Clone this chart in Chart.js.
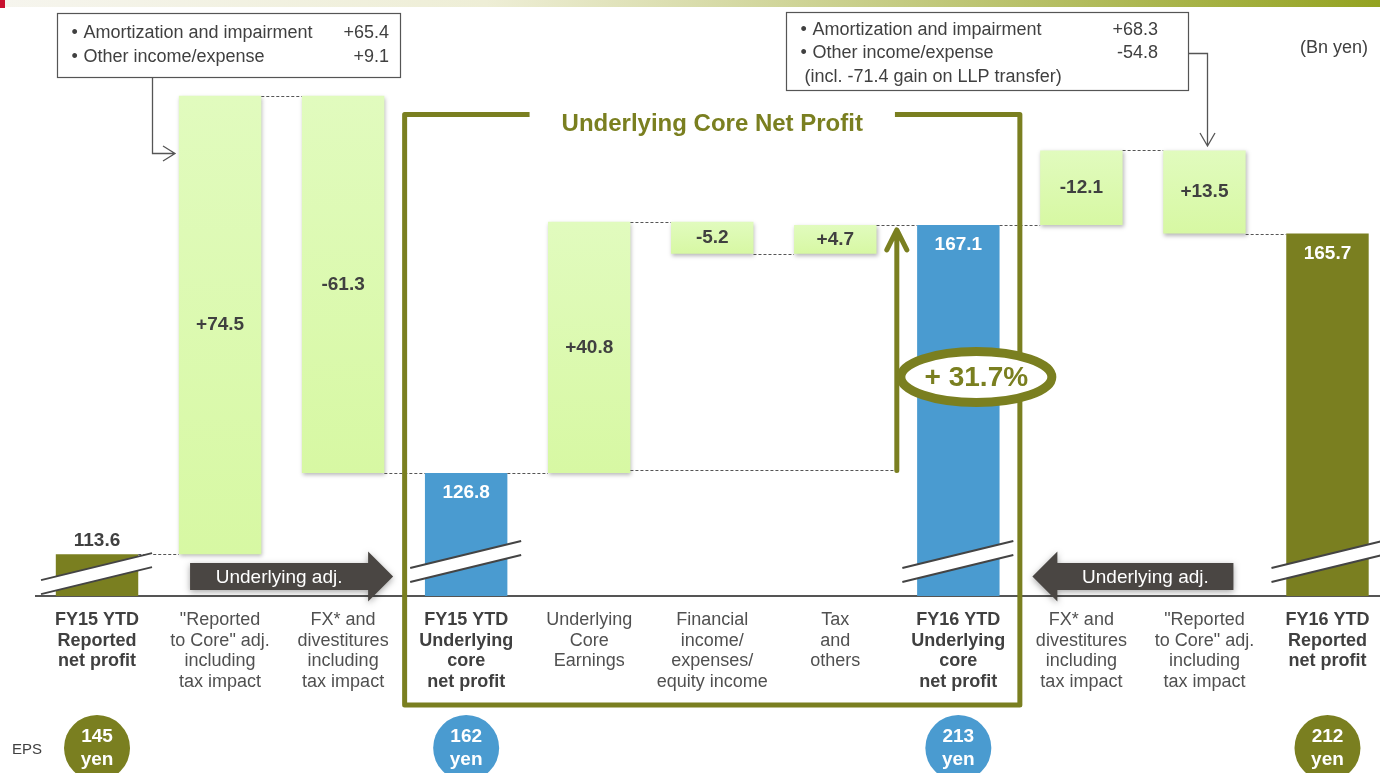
<!DOCTYPE html>
<html>
<head>
<meta charset="utf-8">
<title>Underlying Core Net Profit</title>
<script src="https://cdn.jsdelivr.net/npm/chart.js@4.4.1/dist/chart.umd.min.js"></script>
<style>
  html, body { margin: 0; padding: 0; background: #fff; overflow: hidden; }
  #wrap { position: relative; width: 1380px; height: 773px; overflow: hidden; }
  canvas { display: block; }
</style>
</head>
<body>
<div id="wrap"><canvas id="bridgeChart" width="1389" height="773"></canvas></div>
<script>
// Data (Bn yen)
const categories = [
  ["FY15 YTD", "Reported", "net profit"],
  ["\"Reported", "to Core\" adj.", "including", "tax impact"],
  ["FX* and", "divestitures", "including", "tax impact"],
  ["FY15 YTD", "Underlying", "core", "net profit"],
  ["Underlying", "Core", "Earnings"],
  ["Financial", "income/", "expenses/", "equity income"],
  ["Tax", "and", "others"],
  ["FY16 YTD", "Underlying", "core", "net profit"],
  ["FX* and", "divestitures", "including", "tax impact"],
  ["\"Reported", "to Core\" adj.", "including", "tax impact"],
  ["FY16 YTD", "Reported", "net profit"]
];
const totalValues = [113.6, null, null, 126.8, null, null, null, 167.1, null, null, 165.7];
const deltaValues = [null, 74.5, -61.3, null, 40.8, -5.2, 4.7, null, -12.1, 13.5, null];
const epsValues = [145, null, null, 162, null, null, null, 213, null, null, 212];

const leftNotes = [["Amortization and impairment", "+65.4"], ["Other income/expense", "+9.1"]];
const rightNotes = [["Amortization and impairment", "+68.3"], ["Other income/expense", "-54.8"]];
const rightNoteExtra = "(incl. -71.4 gain on LLP transfer)";
const boxTitle = "Underlying Core Net Profit";
const growthLabel = "+ 31.7%";
const adjLabel = "Underlying adj.";

// Styles
const FONT = '"Liberation Sans", Arial, sans-serif';
const OLIVE = "#7a7f20";
const BLUE = "#4a9bd0";
const TEXT = "#404040";
const Y_MIN = 106.8, Y_MAX = 197.15;

// Waterfall ranges: left side walks forward from FY15 reported,
// right side walks back from FY16 reported (the adj. arrow points left)
function buildRanges() {
  const ranges = new Array(categories.length).fill(null);
  let run = totalValues[0];
  for (let i = 1; i <= 7; i++) {
    if (totalValues[i] != null) { run = totalValues[i]; continue; }
    ranges[i] = [run, run + deltaValues[i]];
    run += deltaValues[i];
  }
  run = totalValues[10];
  for (let i = 9; i >= 8; i--) {
    ranges[i] = [run, run + deltaValues[i]];
    run += deltaValues[i];
  }
  return ranges;
}
const deltaRanges = buildRanges();
const totalRanges = totalValues.map(v => (v == null ? null : [Y_MIN, v]));

const isUnderlying = i => categories[i].join(" ").includes("Underlying") && totalValues[i] != null;

function fmtDelta(v) {
  return (v > 0 ? "+" : "") + v.toFixed(1);
}

// soft shadow under the green bars
const shadowPlugin = {
  id: "barShadow",
  beforeDatasetDraw(chart, args) {
    if (args.index !== 0) return;
    const ctx = chart.ctx;
    ctx.save();
    ctx.shadowColor = "rgba(0,0,0,0.28)";
    ctx.shadowBlur = 4;
    ctx.shadowOffsetX = 1;
    ctx.shadowOffsetY = 2;
  },
  afterDatasetDraw(chart, args) {
    if (args.index === 0) chart.ctx.restore();
  }
};

function blockArrow(ctx, tail, tip, cy, text) {
  const dir = tip > tail ? 1 : -1;
  const headBase = tip - dir * 25;
  ctx.save();
  ctx.shadowColor = "rgba(0,0,0,0.35)";
  ctx.shadowBlur = 6;
  ctx.shadowOffsetY = 2;
  ctx.fillStyle = "#4a4643";
  ctx.beginPath();
  ctx.moveTo(tail, cy - 13.5);
  ctx.lineTo(headBase, cy - 13.5);
  ctx.lineTo(headBase, cy - 25);
  ctx.lineTo(tip, cy);
  ctx.lineTo(headBase, cy + 25);
  ctx.lineTo(headBase, cy + 13.5);
  ctx.lineTo(tail, cy + 13.5);
  ctx.closePath();
  ctx.fill();
  ctx.restore();
  ctx.fillStyle = "#ffffff";
  ctx.font = "19px " + FONT;
  ctx.textAlign = "center";
  ctx.textBaseline = "middle";
  ctx.fillText(text, (tail + headBase) / 2, cy + 1);
}

function noteBox(ctx, x, y, w, h, notes, extra, valRight, lineY) {
  ctx.strokeStyle = "#555";
  ctx.lineWidth = 1.2;
  ctx.strokeRect(x, y, w, h);
  ctx.fillStyle = TEXT;
  ctx.font = "18px " + FONT;
  ctx.textBaseline = "middle";
  notes.forEach((n, k) => {
    ctx.textAlign = "left";
    ctx.fillText("\u2022", x + 14, lineY[k]);
    ctx.fillText(n[0], x + 26, lineY[k]);
    ctx.textAlign = "right";
    ctx.fillText(n[1], valRight, lineY[k]);
  });
  if (extra) {
    ctx.textAlign = "left";
    ctx.fillText(extra, x + 18, lineY[notes.length]);
  }
}

const annotationPlugin = {
  id: "annotations",
  afterDraw(chart) {
    const ctx = chart.ctx;
    const xs = chart.scales.x, ys = chart.scales.y;
    const cx = i => xs.getPixelForValue(i);
    const half = (cx(1) - cx(0)) / 2;
    const metaD = chart.getDatasetMeta(0), metaT = chart.getDatasetMeta(1);
    const barEl = i => (deltaRanges[i] ? metaD.data[i] : metaT.data[i]);
    const ranges = deltaRanges.map((r, i) => r || totalRanges[i]);

    // top strip
    const g = ctx.createLinearGradient(0, 0, chart.width, 0);
    g.addColorStop(0, "#f6f5ee");
    g.addColorStop(0.35, "#eeeed6");
    g.addColorStop(1, "#93a21f");
    ctx.fillStyle = g;
    ctx.fillRect(0, 0, chart.width, 7);
    ctx.fillStyle = "#c8102e";
    ctx.fillRect(0, 0, 5, 8);

    // dashed connectors between neighbouring bars
    ctx.save();
    ctx.strokeStyle = "#555";
    ctx.lineWidth = 1;
    ctx.setLineDash([3, 2]);
    for (let i = 0; i < ranges.length - 1; i++) {
      const a = ranges[i].filter(v => v !== Y_MIN);
      const b = ranges[i + 1].filter(v => v !== Y_MIN);
      const lvl = a.find(v => b.some(w => Math.abs(w - v) < 0.05));
      if (lvl == null) continue;
      const e1 = barEl(i), e2 = barEl(i + 1);
      const y = Math.round(ys.getPixelForValue(lvl)) + 0.5;
      ctx.beginPath();
      ctx.moveTo(e1.x + e1.width / 2, y);
      ctx.lineTo(e2.x - e2.width / 2, y);
      ctx.stroke();
    }
    // long dashed line from FY15 core level to growth arrow
    const arrowX = cx(6) + half;
    const yBase = Math.round(ys.getPixelForValue(totalValues[3])) - 2.5;
    const e4 = barEl(4);
    ctx.beginPath();
    ctx.moveTo(e4.x + e4.width / 2, yBase);
    ctx.lineTo(arrowX, yBase);
    ctx.stroke();
    ctx.restore();

    // break marks on total bars
    totalValues.forEach((v, i) => {
      if (v == null) return;
      const el = metaT.data[i];
      const bottom = ys.getPixelForValue(Y_MIN), top = ys.getPixelForValue(v);
      const off = Math.min(28, (bottom - top) * 0.38);
      const x0 = el.x - 56, x1 = el.x + 55;
      const y0 = bottom - off, y1 = y0 - 27;
      ctx.fillStyle = "#fff";
      ctx.beginPath();
      ctx.moveTo(x0, y0); ctx.lineTo(x1, y1); ctx.lineTo(x1, y1 + 14); ctx.lineTo(x0, y0 + 14);
      ctx.closePath();
      ctx.fill();
      ctx.strokeStyle = "#444";
      ctx.lineWidth = 2;
      ctx.beginPath();
      ctx.moveTo(x0, y0); ctx.lineTo(x1, y1);
      ctx.moveTo(x0, y0 + 14); ctx.lineTo(x1, y1 + 14);
      ctx.stroke();
    });

    // value labels
    ctx.textAlign = "center";
    ctx.textBaseline = "middle";
    ctx.font = "bold 19px " + FONT;
    deltaValues.forEach((v, i) => {
      if (v == null) return;
      const r = deltaRanges[i];
      const yc = (ys.getPixelForValue(r[0]) + ys.getPixelForValue(r[1])) / 2;
      ctx.fillStyle = TEXT;
      ctx.fillText(fmtDelta(v), cx(i), yc);
    });
    totalValues.forEach((v, i) => {
      if (v == null) return;
      const top = ys.getPixelForValue(v), bottom = ys.getPixelForValue(Y_MIN);
      if (bottom - top < 60) {
        ctx.fillStyle = TEXT;
        ctx.fillText(v.toFixed(1), cx(i), top - 13);
      } else {
        ctx.fillStyle = "#fff";
        ctx.fillText(v.toFixed(1), cx(i), top + 20);
      }
    });

    // Underlying adj. arrows
    blockArrow(ctx, cx(1) - 30, cx(2) + 50, 576.5, adjLabel);
    blockArrow(ctx, cx(9) + 29, cx(8) - 49, 576.5, adjLabel);

    // Underlying core net profit frame
    const bl = cx(3) - half, br = cx(7) + half;
    const bt = 114.5, bb = 705;
    ctx.font = "bold 24px " + FONT;
    const tw = ctx.measureText(boxTitle).width;
    const mid = (bl + br) / 2;
    ctx.save();
    ctx.strokeStyle = OLIVE;
    ctx.lineWidth = 5;
    ctx.lineJoin = "round";
    ctx.beginPath();
    ctx.moveTo(mid - tw / 2 - 32, bt);
    ctx.lineTo(bl, bt);
    ctx.lineTo(bl, bb);
    ctx.lineTo(br, bb);
    ctx.lineTo(br, bt);
    ctx.lineTo(mid + tw / 2 + 32, bt);
    ctx.stroke();
    ctx.restore();
    ctx.fillStyle = OLIVE;
    ctx.textAlign = "center";
    ctx.fillText(boxTitle, mid, 124);

    // growth arrow
    const tipY = ys.getPixelForValue(totalValues[7]) + 3;
    ctx.save();
    ctx.strokeStyle = OLIVE;
    ctx.lineWidth = 5;
    ctx.lineCap = "round";
    ctx.lineJoin = "round";
    ctx.beginPath();
    ctx.moveTo(arrowX, yBase);
    ctx.lineTo(arrowX, tipY + 4);
    ctx.moveTo(arrowX - 10, tipY + 22);
    ctx.lineTo(arrowX, tipY + 2);
    ctx.lineTo(arrowX + 10, tipY + 22);
    ctx.stroke();
    ctx.restore();

    // growth ellipse
    const ex = cx(7) + 18, ey = 377;
    ctx.save();
    ctx.beginPath();
    ctx.ellipse(ex, ey, 75.5, 25.5, 0, 0, Math.PI * 2);
    ctx.fillStyle = "#fff";
    ctx.fill();
    ctx.lineWidth = 9;
    ctx.strokeStyle = OLIVE;
    ctx.stroke();
    ctx.restore();
    ctx.fillStyle = OLIVE;
    ctx.font = "bold 28px " + FONT;
    ctx.fillText(growthLabel, ex, ey + 1);

    // note boxes
    noteBox(ctx, 57.5, 13.5, 343, 64, leftNotes, null, 389, [33, 57]);
    noteBox(ctx, 786.5, 12.5, 402, 78, rightNotes, rightNoteExtra, 1158, [30, 53, 77]);

    // note connectors
    ctx.strokeStyle = "#555";
    ctx.lineWidth = 1.3;
    ctx.beginPath();
    ctx.moveTo(152.5, 77.5); ctx.lineTo(152.5, 153.5); ctx.lineTo(175, 153.5);
    ctx.moveTo(163, 146); ctx.lineTo(175, 153.5); ctx.lineTo(163, 161);
    ctx.moveTo(1188.5, 53.5); ctx.lineTo(1207.5, 53.5); ctx.lineTo(1207.5, 146);
    ctx.moveTo(1200, 133); ctx.lineTo(1207.5, 146); ctx.lineTo(1215, 133);
    ctx.stroke();

    // unit label
    ctx.fillStyle = TEXT;
    ctx.font = "18px " + FONT;
    ctx.textAlign = "right";
    ctx.fillText("(Bn yen)", 1368, 48);

    // EPS circles
    ctx.textAlign = "left";
    ctx.font = "15px " + FONT;
    ctx.fillText("EPS", 12, 750);
    epsValues.forEach((v, i) => {
      if (v == null) return;
      ctx.beginPath();
      ctx.arc(cx(i), 748, 33, 0, Math.PI * 2);
      ctx.fillStyle = isUnderlying(i) ? BLUE : OLIVE;
      ctx.fill();
      ctx.fillStyle = "#fff";
      ctx.font = "bold 19px " + FONT;
      ctx.textAlign = "center";
      ctx.fillText(String(v), cx(i), 737);
      ctx.fillText("yen", cx(i), 760);
    });
  }
};

new Chart(document.getElementById("bridgeChart"), {
  type: "bar",
  data: {
    labels: categories,
    datasets: [
      {
        label: "Adjustments",
        data: deltaRanges,
        grouped: false,
        barPercentage: 1,
        categoryPercentage: 0.67,
        backgroundColor: function (c) {
          const area = c.chart.chartArea;
          const r = c.raw;
          if (!area || !r) return "#dcf9b0";
          const y = c.chart.scales.y;
          const g = c.chart.ctx.createLinearGradient(0, y.getPixelForValue(Math.max(...r)), 0, y.getPixelForValue(Math.min(...r)));
          g.addColorStop(0, "#e1fbbe");
          g.addColorStop(1, "#d7f8a3");
          return g;
        }
      },
      {
        label: "Net profit",
        data: totalRanges,
        grouped: false,
        barPercentage: 1,
        categoryPercentage: 0.67,
        backgroundColor: totalValues.map((v, i) => (isUnderlying(i) ? BLUE : OLIVE))
      }
    ]
  },
  options: {
    responsive: false,
    animation: false,
    layout: { padding: { left: 35.5, top: 40, right: 0, bottom: 0 } },
    plugins: {
      legend: { display: false },
      tooltip: { enabled: false }
    },
    scales: {
      x: {
        grid: { display: false, drawTicks: false },
        border: { display: true, color: "#555", width: 2 },
        afterFit: function (scale) { scale.height = 177; },
        ticks: {
          autoSkip: false,
          maxRotation: 0,
          padding: 14,
          color: c => (totalValues[c.index] != null ? TEXT : "#505050"),
          font: c => ({ family: FONT, size: 18, lineHeight: 1.14, weight: totalValues[c.index] != null ? "bold" : "normal" })
        }
      },
      y: { display: false, min: Y_MIN, max: Y_MAX }
    }
  },
  plugins: [shadowPlugin, annotationPlugin]
});
</script>
</body>
</html>
